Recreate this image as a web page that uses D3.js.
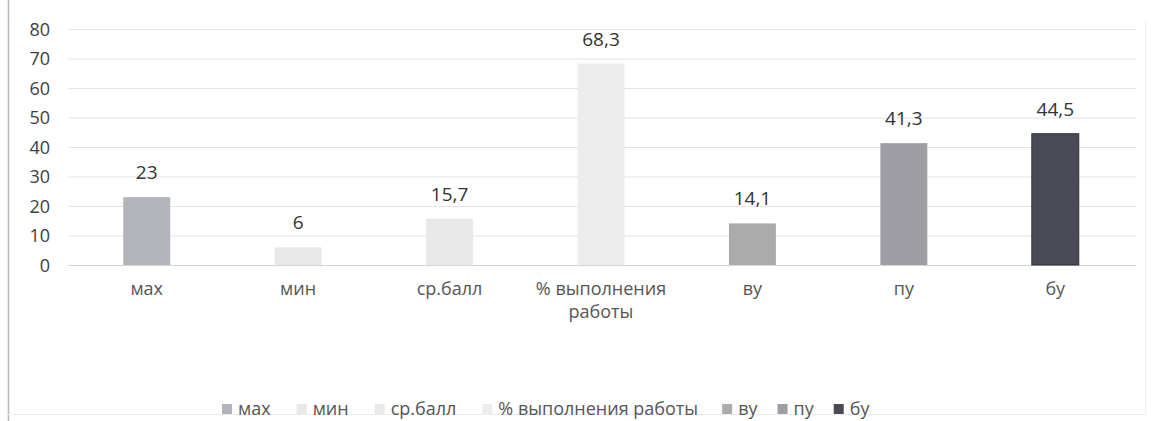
<!DOCTYPE html>
<html><head><meta charset="utf-8">
<script src="https://cdn.jsdelivr.net/npm/d3@7"></script>
<style>body{margin:0;background:#fff}svg{display:block}text{font-family:"Open Sans",sans-serif}</style>
</head><body>
<svg id="c" width="1151" height="421"></svg>
<script>
const categories = ["мах","мин","ср.балл","% выполнения работы","ву","пу","бу"];
const values = [23, 6, 15.7, 68.3, 14.1, 41.3, 44.5];
const valueLabels = ["23","6","15,7","68,3","14,1","41,3","44,5"];
const yTicks = [0,10,20,30,40,50,60,70,80];
const colors = ["#b3b3bb","#e8e8e8","#e9e9e9","#ececec","#ababab","#9d9da3","#4a4a56"];

const svg = d3.select("#c");
// frame
svg.append("line").attr("x1",8.5).attr("x2",8.5).attr("y1",0).attr("y2",421).attr("stroke","#b8b8b8").attr("stroke-width",1.5);
svg.append("line").attr("x1",8).attr("x2",1146).attr("y1",414.5).attr("y2",414.5).attr("stroke","#ececec");
svg.append("line").attr("x1",1145.5).attr("x2",1145.5).attr("y1",20).attr("y2",414).attr("stroke","#f0f0f0");

const x = d3.scaleBand().domain(categories).range([71,1131]).paddingInner(0.69).paddingOuter(0.345);
const y = d3.scaleLinear().domain([0,80]).range([265,29]);

// gridlines
svg.append("g").selectAll("line").data(yTicks).join("line")
  .attr("x1",68).attr("x2",1136).attr("y1",d=>y(d)+0.5).attr("y2",d=>y(d)+0.5)
  .attr("stroke",d=>d===0?"#d4d4d4":"#e4e4e4").attr("stroke-width",1.2);

// y axis labels
const yAxis = d3.axisLeft(y).tickValues(yTicks).tickSize(0).tickPadding(0);
const ga = svg.append("g").attr("transform","translate(50,0)").call(yAxis);
ga.select(".domain").remove();
ga.selectAll("text").attr("font-size",18).attr("fill","#404040").attr("font-family","'Open Sans',sans-serif").attr("dy","0.36em");

// bars
svg.append("g").selectAll("rect").data(values).join("rect")
  .attr("x",(d,i)=>x(categories[i])).attr("width",x.bandwidth())
  .attr("y",d=>y(d)).attr("height",d=>y(0)-y(d))
  .attr("fill",(d,i)=>colors[i])
  .attr("stroke",(d,i)=>i===6?"#2e2e36":"none").attr("stroke-width",1);

// value labels
svg.append("g").selectAll("text").data(values).join("text")
  .attr("x",(d,i)=>x(categories[i])+x.bandwidth()/2).attr("y",d=>y(d)-18)
  .attr("text-anchor","middle").attr("font-size",19).attr("fill","#333")
  .text((d,i)=>valueLabels[i]);

// category labels
const cat = svg.append("g").selectAll("text").data(categories).join("text")
  .attr("x",d=>x(d)+x.bandwidth()/2).attr("y",295)
  .attr("text-anchor","middle").attr("font-size",18).attr("fill","#555");
cat.each(function(d){
  const t = d3.select(this);
  if (d === "% выполнения работы") {
    t.append("tspan").attr("x",t.attr("x")).attr("dy",0).text("% выполнения");
    t.append("tspan").attr("x",t.attr("x")).attr("dy",23).text("работы");
  } else t.text(d);
});

// legend
const lg = svg.append("g");
let lx = 222;
const gaps = [26,26,26,24,20,20,0];
categories.forEach((c,i)=>{
  lg.append("rect").attr("x",lx).attr("y",404).attr("width",10).attr("height",10).attr("fill",colors[i]);
  const t = lg.append("text").attr("x",lx+16).attr("y",415).attr("font-size",18).attr("fill","#555").text(c);
  lx = lx + 16 + t.node().getComputedTextLength() + gaps[i];
});
</script>
</body></html>
